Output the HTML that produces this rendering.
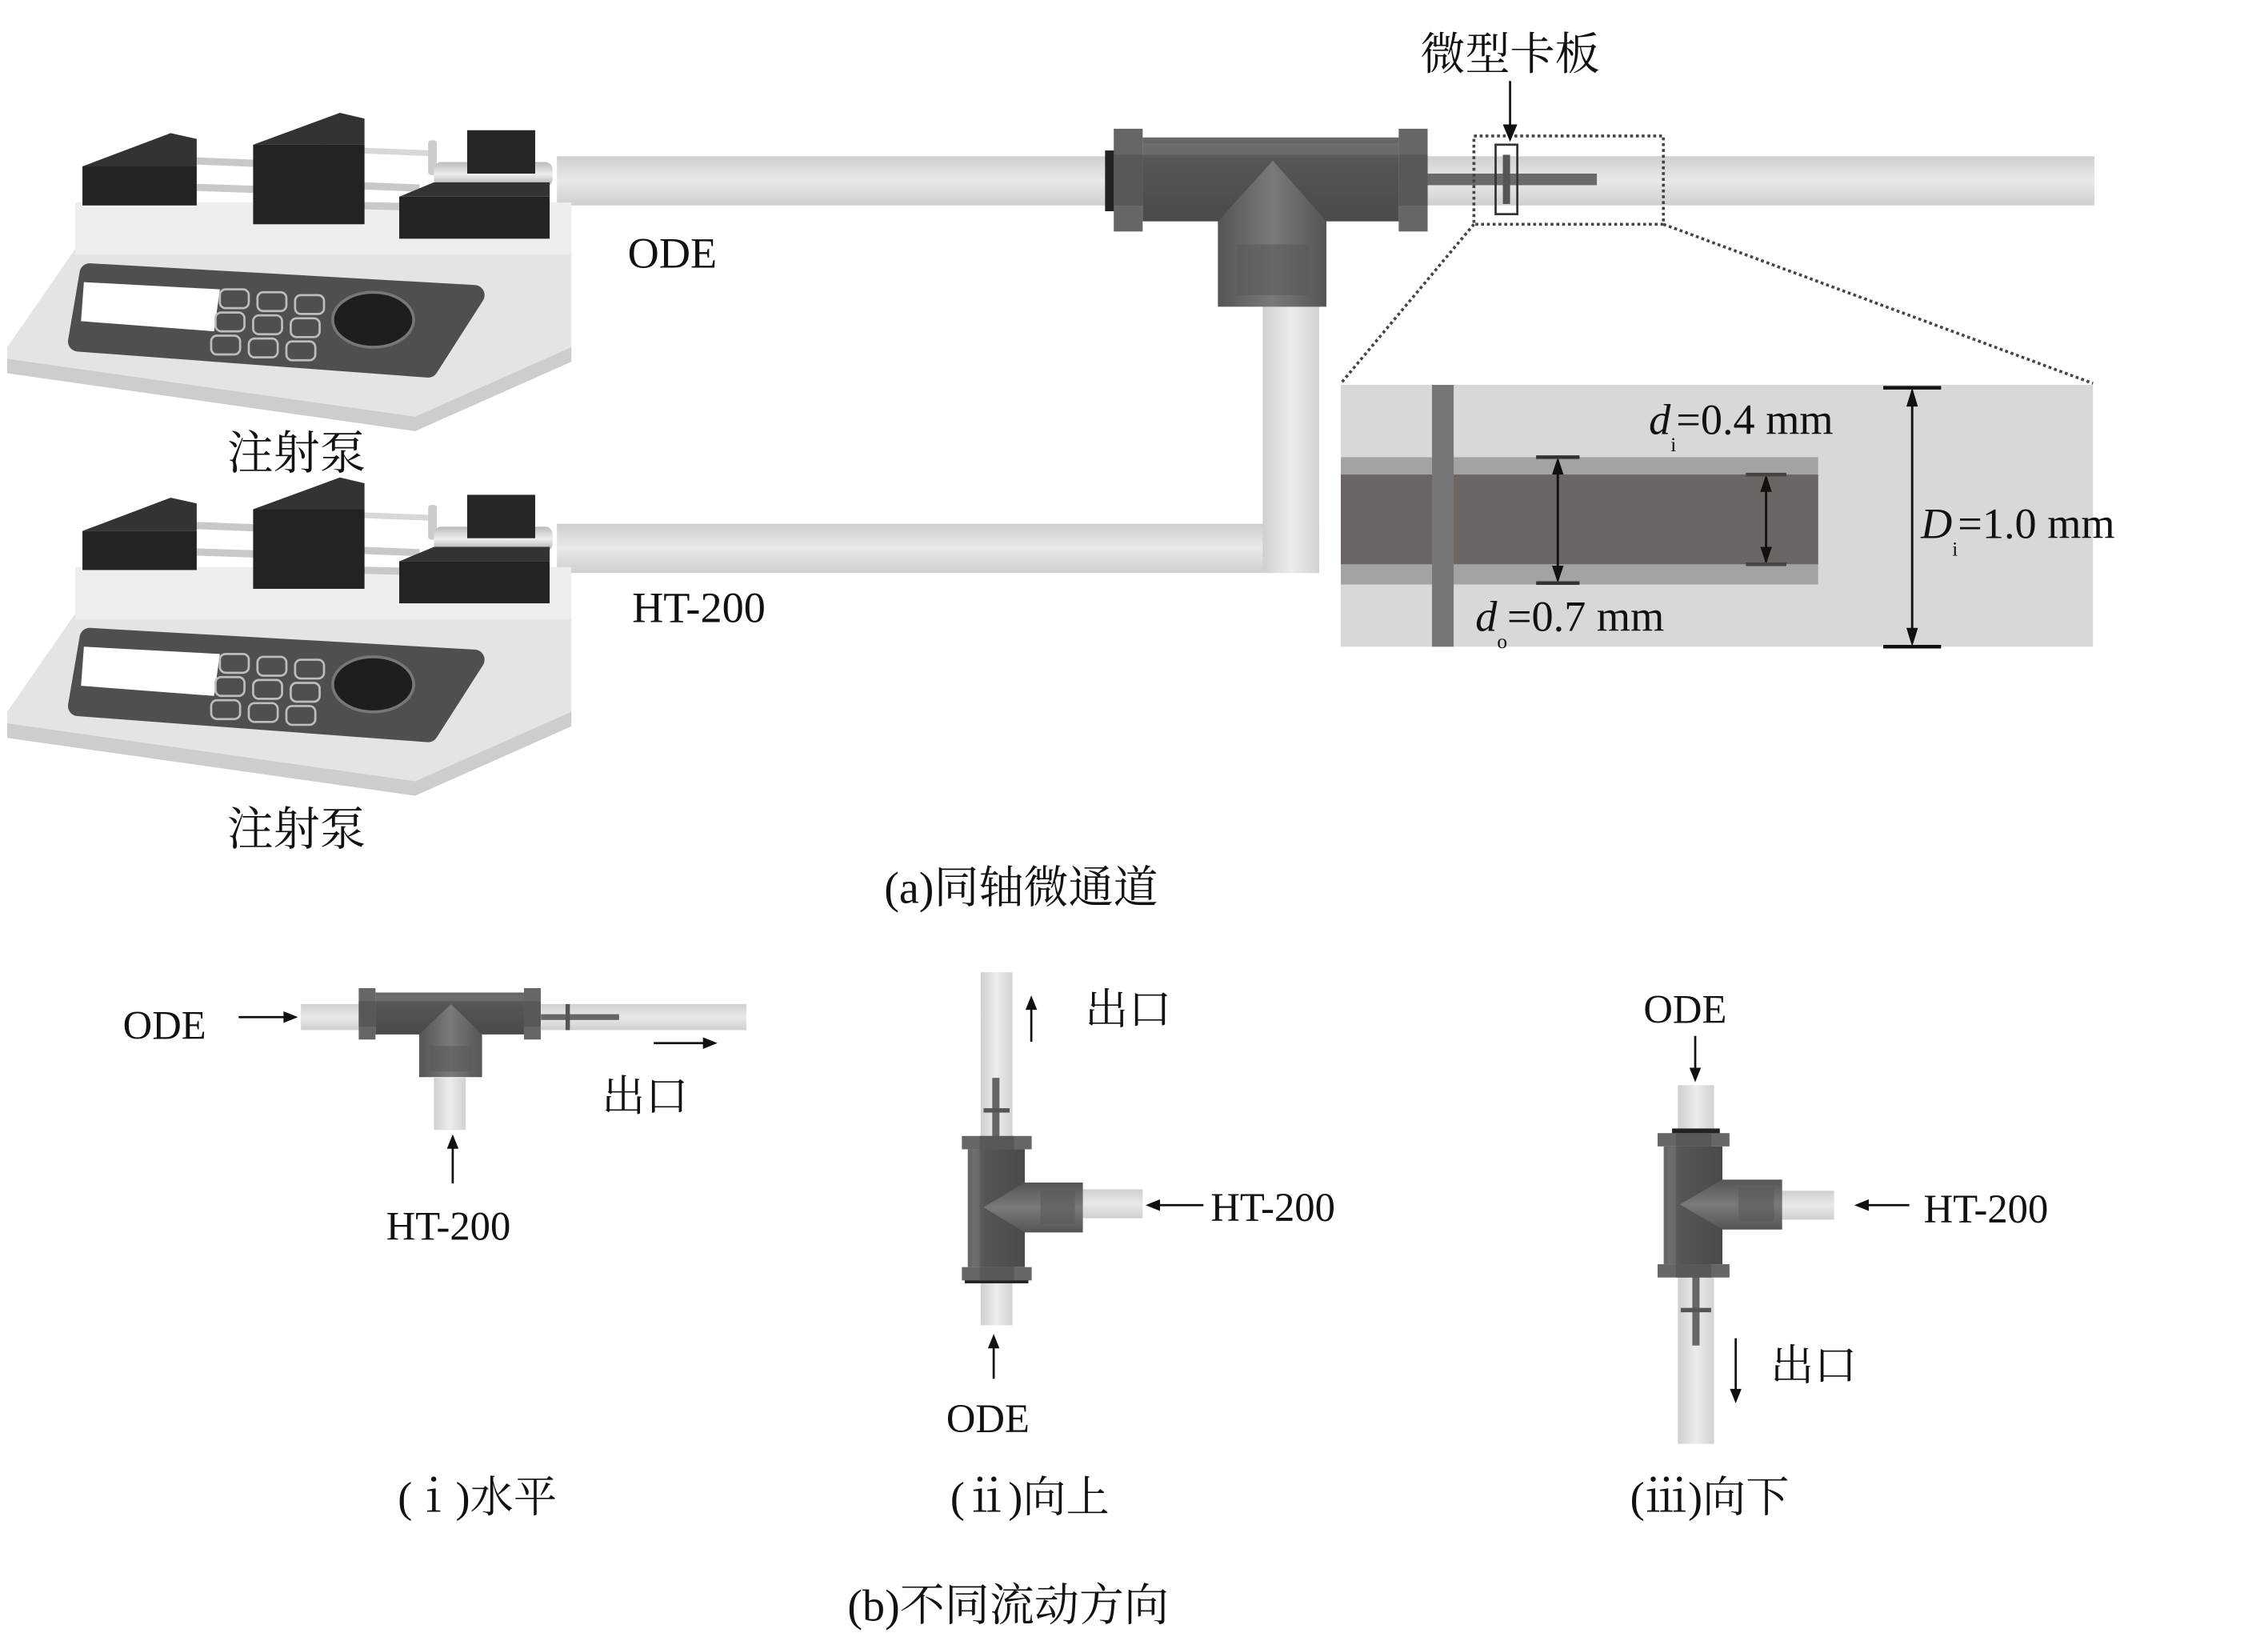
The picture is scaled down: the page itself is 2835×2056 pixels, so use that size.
<!DOCTYPE html>
<html><head><meta charset="utf-8"><style>
html,body{margin:0;padding:0;background:#fff;}
svg{display:block;}
text{font-family:"Liberation Serif","Noto Serif CJK SC",serif;fill:#111;}
</style></head><body>
<svg width="2835" height="2056" viewBox="0 0 1568 1137" preserveAspectRatio="none" xmlns="http://www.w3.org/2000/svg">
<defs>
<linearGradient id="tubeH" x1="0" y1="0" x2="0" y2="1"><stop offset="0" stop-color="#cfcfcf"/><stop offset="0.5" stop-color="#e9e9e9"/><stop offset="1" stop-color="#cfcfcf"/></linearGradient>
<linearGradient id="tubeV" x1="0" y1="0" x2="1" y2="0"><stop offset="0" stop-color="#cfcfcf"/><stop offset="0.5" stop-color="#ececec"/><stop offset="1" stop-color="#d2d2d2"/></linearGradient>
<linearGradient id="teeBody" x1="0" y1="0" x2="0" y2="1"><stop offset="0" stop-color="#6a6a6a"/><stop offset="0.3" stop-color="#555"/><stop offset="1" stop-color="#4a4a4a"/></linearGradient>
<linearGradient id="teeStem" x1="0" y1="0" x2="1" y2="0"><stop offset="0" stop-color="#555"/><stop offset="0.5" stop-color="#7a7a7a"/><stop offset="1" stop-color="#555"/></linearGradient>
<linearGradient id="barrel" x1="0" y1="0" x2="0" y2="1"><stop offset="0" stop-color="#bbb"/><stop offset="0.5" stop-color="#eee"/><stop offset="1" stop-color="#aaa"/></linearGradient>
<g id="pump">
  <polygon points="52,140 395,140 395,250 287,298 5,258 5,240 52,172" fill="#e4e4e4"/>
  <rect x="52" y="140" width="343" height="36" fill="#eeeeee"/>
  <polygon points="5,248 287,288 395,240 395,250 287,298 5,258" fill="#cdcdcd"/>
  <polygon points="62,189 328,204 296,254 54,236" fill="#4f4f4f" stroke="#4f4f4f" stroke-width="14" stroke-linejoin="round"/>
  <polygon points="58,195 152,200 148,229 56,222" fill="#fff"/>
  <g fill="none" stroke="#bdbdbd" stroke-width="1.5">
    <rect x="152" y="200" width="20" height="13" rx="4"/><rect x="178" y="202" width="20" height="13" rx="4"/><rect x="204" y="204" width="20" height="13" rx="4"/>
    <rect x="149" y="216" width="20" height="13" rx="4"/><rect x="175" y="218" width="20" height="13" rx="4"/><rect x="201" y="220" width="20" height="13" rx="4"/>
    <rect x="146" y="232" width="20" height="13" rx="4"/><rect x="172" y="234" width="20" height="13" rx="4"/><rect x="198" y="236" width="20" height="13" rx="4"/>
  </g>
  <ellipse cx="258" cy="221" rx="28" ry="19" fill="#1e1e1e" stroke="#777" stroke-width="2"/>
  <line x1="130" y1="111" x2="180" y2="113" stroke="#c8c8c8" stroke-width="5"/>
  <line x1="90" y1="128" x2="180" y2="131" stroke="#c8c8c8" stroke-width="5"/>
  <line x1="240" y1="128" x2="290" y2="130" stroke="#c8c8c8" stroke-width="5"/>
  <line x1="205" y1="141" x2="285" y2="143" stroke="#c8c8c8" stroke-width="5"/>
  <line x1="222" y1="103" x2="300" y2="106" stroke="#d8d8d8" stroke-width="4"/>
  <rect x="220" y="93" width="6" height="18" fill="#ccc"/>
  <rect x="296" y="97" width="6" height="24" rx="2" fill="#ccc"/>
  <rect x="300" y="112" width="82" height="17" rx="5" fill="url(#barrel)"/>
  <polygon points="57,115 118,92 136,96 136,115" fill="#333"/>
  <rect x="57" y="115" width="79" height="27" fill="#232323"/>
  <polygon points="175,100 235,78 252,82 252,100" fill="#333"/>
  <rect x="175" y="100" width="77" height="55" fill="#232323"/>
  <rect x="323" y="90" width="47" height="30" fill="#262626"/>
  <polygon points="276,136 300,126 380,126 380,136" fill="#333"/>
  <rect x="276" y="136" width="104" height="29" fill="#232323"/>
</g>
<g id="tee">
  <rect x="20" y="6" width="177" height="58" fill="url(#teeBody)"/>
  <rect x="20" y="10" width="177" height="8" fill="#777" opacity="0.5"/>
  <path d="M72,64 L110,22 L147,64 L147,123 L72,123 Z" fill="url(#teeStem)"/>
  <rect x="85" y="80" width="50" height="35" fill="#5a5a5a" opacity="0.6"/>
  <rect x="0" y="0" width="20" height="71" fill="#666"/>
  <rect x="0" y="18" width="20" height="35" fill="#585858"/>
  <rect x="197" y="0" width="20" height="71" fill="#666"/>
  <rect x="197" y="18" width="20" height="35" fill="#585858"/>
</g>
</defs>

<rect x="385" y="108" width="388" height="34" fill="url(#tubeH)"/>
<rect x="385" y="362" width="527" height="34" fill="url(#tubeH)"/>
<rect x="873" y="205" width="39" height="191" fill="url(#tubeV)"/>
<rect x="985" y="108" width="463" height="34" fill="url(#tubeH)"/>
<rect x="986" y="120" width="118" height="8" fill="#6a6a6a"/>

<use href="#pump"/>
<use href="#pump" transform="translate(0,252)"/>

<rect x="764" y="104" width="7" height="42" fill="#222"/>
<use href="#tee" transform="translate(770,89)"/>

<rect x="1034" y="100" width="15" height="48" fill="none" stroke="#333" stroke-width="1.5"/>
<rect x="1039" y="107" width="5" height="34" fill="#555"/>
<rect x="1019" y="94" width="131" height="61" fill="none" stroke="#444" stroke-width="2" stroke-dasharray="2,2"/>
<line x1="1019" y1="155" x2="927" y2="265" stroke="#444" stroke-width="2" stroke-dasharray="2,2"/>
<line x1="1150" y1="155" x2="1447" y2="265" stroke="#444" stroke-width="2" stroke-dasharray="2,2"/>

<text x="1044" y="48" font-size="31" text-anchor="middle">微型卡板</text>
<line x1="1044" y1="56" x2="1044" y2="92" stroke="#111" stroke-width="1.5"/>
<polygon points="1039,86 1049,86 1044,98" fill="#111"/>

<rect x="927" y="266" width="520" height="181" fill="#d8d8d8"/>
<rect x="927" y="316" width="330" height="88" fill="#a3a3a3"/>
<rect x="927" y="328" width="330" height="62" fill="#6b6563"/>
<rect x="990" y="266" width="15" height="181" fill="#777"/>
<g stroke="#111" stroke-width="1.6" fill="#111">
  <line x1="1077" y1="318" x2="1077" y2="401"/>
  <polygon points="1073,328 1081,328 1077,316" stroke="none"/><polygon points="1073,391 1081,391 1077,403" stroke="none"/>
  <line x1="1062" y1="316" x2="1092" y2="316" stroke="#333" stroke-width="2.5"/>
  <line x1="1062" y1="403" x2="1092" y2="403" stroke="#333" stroke-width="2.5"/>
  <line x1="1221" y1="330" x2="1221" y2="388"/>
  <polygon points="1217,340 1225,340 1221,328" stroke="none"/><polygon points="1217,378 1225,378 1221,390" stroke="none"/>
  <line x1="1207" y1="328" x2="1235" y2="328" stroke="#444" stroke-width="2.5"/>
  <line x1="1207" y1="390" x2="1235" y2="390" stroke="#444" stroke-width="2.5"/>
  <line x1="1322" y1="270" x2="1322" y2="444"/>
  <polygon points="1318,281 1326,281 1322,268" stroke="none"/><polygon points="1318,434 1326,434 1322,447" stroke="none"/>
  <line x1="1302" y1="268" x2="1342" y2="268" stroke-width="2.5"/>
  <line x1="1302" y1="447" x2="1342" y2="447" stroke-width="2.5"/>
</g>
<text x="1140" y="300" font-size="30"><tspan font-style="italic">d</tspan><tspan font-size="14" dy="12">i</tspan><tspan dy="-12">=0.4 mm</tspan></text>
<text x="1328" y="372" font-size="30"><tspan font-style="italic">D</tspan><tspan font-size="14" dy="12">i</tspan><tspan dy="-12">=1.0 mm</tspan></text>
<text x="1020" y="436" font-size="30"><tspan font-style="italic">d</tspan><tspan font-size="14" dy="12">o</tspan><tspan dy="-12">=0.7 mm</tspan></text>

<text x="205" y="324" font-size="32" text-anchor="middle">注射泵</text>
<text x="205" y="584" font-size="32" text-anchor="middle">注射泵</text>
<text x="434" y="185" font-size="30">ODE</text>
<text x="437" y="430" font-size="30">HT-200</text>
<text x="706" y="624" font-size="31" text-anchor="middle">(a)同轴微通道</text>

<!-- (i) -->
<rect x="208" y="694" width="42" height="18" fill="url(#tubeH)"/>
<rect x="300" y="745" width="22" height="36" fill="url(#tubeV)"/>
<rect x="374" y="694" width="142" height="18" fill="url(#tubeH)"/>
<rect x="374" y="701" width="54" height="4" fill="#666"/>
<rect x="391" y="694" width="3" height="18" fill="#555"/>
<use href="#tee" transform="translate(248,683) scale(0.58,0.5)"/>
<text x="85" y="718" font-size="28">ODE</text>
<line x1="165" y1="703" x2="200" y2="703" stroke="#111" stroke-width="1.5"/><polygon points="196,699 196,707 206,703" fill="#111"/>
<line x1="452" y1="721" x2="488" y2="721" stroke="#111" stroke-width="1.5"/><polygon points="486,717 486,725 496,721" fill="#111"/>
<text x="416" y="768" font-size="30">出口</text>
<line x1="313" y1="818" x2="313" y2="792" stroke="#111" stroke-width="1.5"/><polygon points="309,794 317,794 313,784" fill="#111"/>
<text x="310" y="857" font-size="28" text-anchor="middle">HT-200</text>
<text x="330" y="1045" font-size="30" text-anchor="middle">(ⅰ)水平</text>

<!-- (ii) -->
<rect x="678" y="672" width="22" height="114" fill="url(#tubeV)"/>
<rect x="686" y="745" width="5" height="45" fill="#666"/>
<rect x="680" y="766" width="18" height="3" fill="#555"/>
<rect x="678" y="884" width="22" height="32" fill="url(#tubeV)"/>
<rect x="748" y="822" width="42" height="20" fill="url(#tubeH)"/>
<rect x="667" y="882" width="44" height="5" fill="#222"/>
<use href="#tee" transform="translate(665,885) rotate(-90) scale(0.46,0.68)"/>
<line x1="713" y1="720" x2="713" y2="696" stroke="#111" stroke-width="1.5"/><polygon points="709,698 717,698 713,688" fill="#111"/>
<text x="750" y="708" font-size="30">出口</text>
<line x1="832" y1="833" x2="800" y2="833" stroke="#111" stroke-width="1.5"/><polygon points="802,829 802,837 792,833" fill="#111"/>
<text x="837" y="844" font-size="28">HT-200</text>
<line x1="687" y1="953" x2="687" y2="930" stroke="#111" stroke-width="1.5"/><polygon points="683,932 691,932 687,922" fill="#111"/>
<text x="683" y="990" font-size="28" text-anchor="middle">ODE</text>
<text x="712" y="1045" font-size="30" text-anchor="middle">(ⅱ)向上</text>

<!-- (iii) -->
<rect x="1160" y="750" width="25" height="34" fill="url(#tubeV)"/>
<rect x="1156" y="780" width="33" height="5" fill="#222"/>
<rect x="1160" y="882" width="25" height="116" fill="url(#tubeV)"/>
<rect x="1170" y="882" width="5" height="48" fill="#666"/>
<rect x="1162" y="904" width="21" height="3" fill="#555"/>
<rect x="1230" y="823" width="38" height="20" fill="url(#tubeH)"/>
<use href="#tee" transform="translate(1146,883) rotate(-90) scale(0.46,0.7)"/>
<text x="1165" y="707" font-size="28" text-anchor="middle">ODE</text>
<line x1="1172" y1="716" x2="1172" y2="740" stroke="#111" stroke-width="1.5"/><polygon points="1168,738 1176,738 1172,748" fill="#111"/>
<line x1="1320" y1="833" x2="1290" y2="833" stroke="#111" stroke-width="1.5"/><polygon points="1292,829 1292,837 1282,833" fill="#111"/>
<text x="1330" y="845" font-size="28">HT-200</text>
<line x1="1200" y1="925" x2="1200" y2="962" stroke="#111" stroke-width="1.5"/><polygon points="1196,960 1204,960 1200,970" fill="#111"/>
<text x="1224" y="954" font-size="30">出口</text>
<text x="1182" y="1045" font-size="30" text-anchor="middle">(ⅲ)向下</text>

<text x="697" y="1120" font-size="31" text-anchor="middle">(b)不同流动方向</text>
</svg>
</body></html>
